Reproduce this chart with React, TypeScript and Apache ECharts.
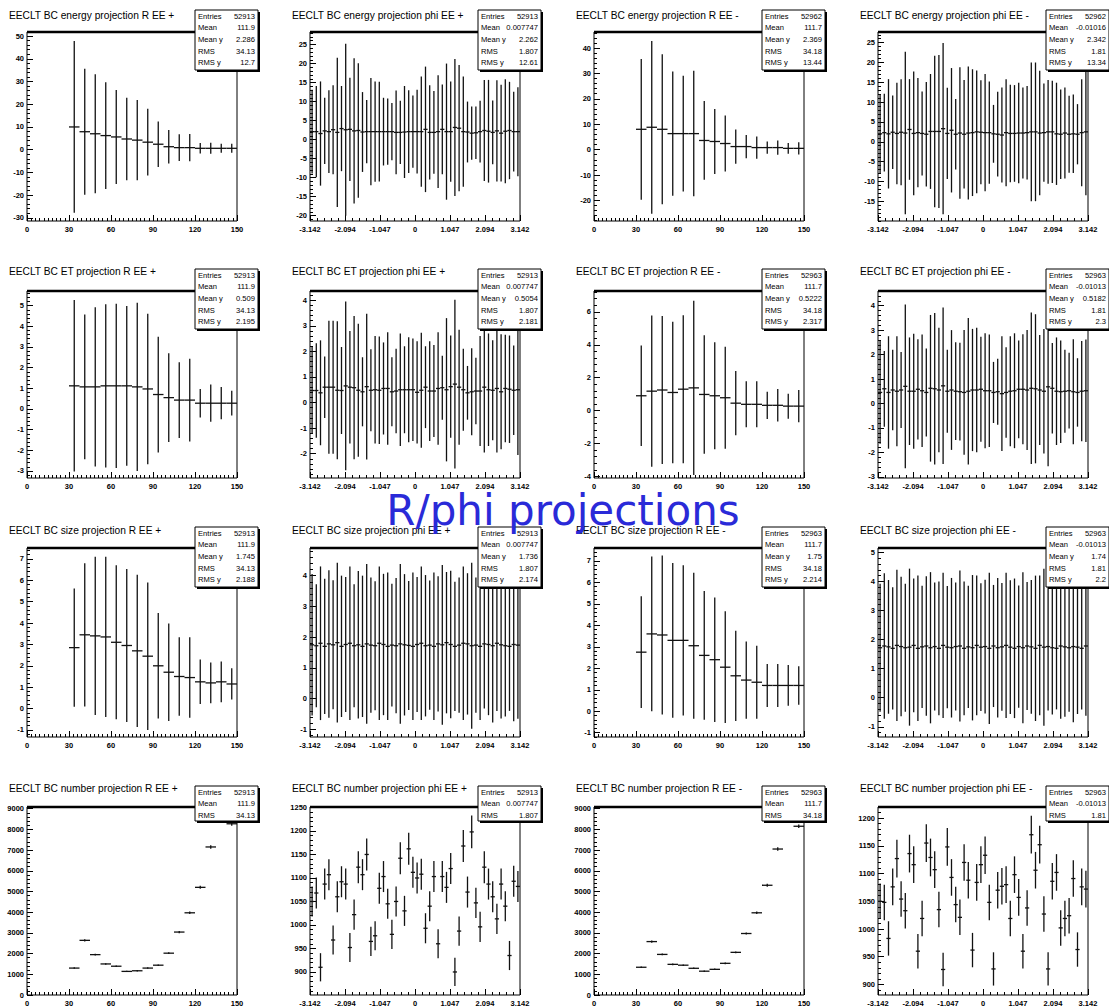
import React, { useEffect, useRef } from "react";
import * as echarts from "echarts";

// ---------------- bins / ticks ----------------
const rBinCenters = [33.75, 41.25, 48.75, 56.25, 63.75, 71.25, 78.75, 86.25, 93.75, 101.25, 108.75, 116.25, 123.75, 131.25, 138.75, 146.25];
const R_BIN_WIDTH = 7.5;
const PHI_NBINS = 50;
const PHI_MIN = -3.142;
const PHI_MAX = 3.142;
const rTickLabels = [0, 30, 60, 90, 120, 150];
const phiTickLabels = [-3.142, -2.094, -1.047, 0, 1.047, 2.094, 3.142];

// ---------------- energy ----------------
const energyR_EEplus_mean = [10, 7.9, 7, 6.2, 5.6, 4.7, 4.2, 3.3, 2.4, 1.3, 0.9, 0.9, 0.6, 0.6, 0.6, 0.6];
const energyR_EEplus_err = [37.8, 27.7, 26.2, 23.5, 20.7, 18.2, 17.7, 14.7, 10, 7.4, 5.9, 6, 2.3, 2.4, 2.0, 2.0];
const energyPhi_EEplus_mean = [2.1, 2.1, 1.6, 2.3, 2.1, 2.6, 1.9, 2.9, 2.6, 2.7, 2.3, 2.4, 2.0, 2.1, 2.1, 2.1, 2.1, 2.1, 2.1, 2.1, 1.9, 1.9, 2.0, 2.1, 2.1, 2.1, 2.1, 2.7, 1.9, 1.9, 2.1, 2.7, 2.1, 2.1, 3.2, 3.0, 2.1, 2.0, 1.7, 1.8, 2.1, 2.4, 2.2, 1.9, 2.3, 1.7, 2.2, 2.4, 2.1, 2.1];
const energyPhi_EEplus_err = [11, 12.0, 13.7, 8.7, 10.9, 11.7, 19.6, 11.2, 22.6, 13.6, 19.1, 17.7, 10.5, 8.3, 14.1, 13.2, 13.1, 8.9, 8.7, 7.5, 11, 8.3, 12.1, 10.9, 9.5, 11, 14.5, 16.5, 12.4, 10.9, 14.8, 11.8, 17.9, 13.2, 18, 16.6, 14.5, 8, 7, 6.9, 8.1, 13.3, 13.5, 8.4, 13.3, 12.7, 13.7, 12.8, 10.5, 11.7];
const energyR_EEminus_mean = [8.0, 8.8, 8.0, 6.3, 6.3, 6.3, 3.6, 3.2, 2.4, 1.2, 1.2, 0.8, 0.8, 0.8, 0.5, 0.5];
const energyR_EEminus_err = [27.7, 34, 29.5, 24.5, 22.8, 24.7, 15.5, 12.8, 11, 6.75, 4.6, 4.35, 2.4, 2.8, 2.1, 2.4];
const energyPhi_EEminus_mean = [2.0, 2.3, 2.0, 2.4, 2.1, 2.4, 2.2, 3.1, 2.1, 2.3, 2.1, 1.9, 2.6, 2.6, 2.6, 3.3, 2.1, 2.9, 1.9, 2.2, 1.9, 2.2, 2.3, 2.5, 2.4, 2.3, 2.3, 2.0, 1.9, 1.7, 2.3, 2.1, 2.1, 2.2, 2.2, 2.3, 2.5, 2.5, 2.2, 2.3, 2.5, 2.5, 2.0, 1.9, 2.2, 1.9, 2.0, 1.9, 2.3, 2.5];
const energyPhi_EEminus_err = [10, 9.8, 13.8, 9.3, 12.8, 13.4, 20.5, 12.7, 15.6, 13.8, 10.6, 13.2, 14.5, 19.1, 19.3, 21.6, 11.5, 15.7, 8.9, 16.6, 13.7, 16.8, 16, 15.5, 13.1, 14.8, 12.9, 7.3, 10.7, 12, 13.5, 12.3, 12.2, 12.7, 11.5, 11.8, 17.5, 17.5, 15.7, 12.4, 13.1, 12.9, 12.9, 11.3, 11.5, 9.7, 9.9, 7.6, 13.5, 16];

// ---------------- ET ----------------
const etR_EEplus_mean = [1.12, 1.07, 1.07, 1.12, 1.12, 1.12, 1.07, 0.97, 0.7, 0.55, 0.43, 0.43, 0.28, 0.28, 0.28, 0.28];
const etR_EEplus_err = [4.15, 3.5, 3.85, 3.95, 3.97, 3.87, 4.07, 3.64, 2.8, 2.15, 1.83, 2.0, 0.69, 0.9, 0.78, 0.6];
const etPhi_EEplus_mean = [0.47, 0.47, 0.38, 0.6, 0.6, 0.6, 0.48, 0.47, 0.65, 0.6, 0.58, 0.48, 0.42, 0.62, 0.48, 0.5, 0.48, 0.55, 0.55, 0.42, 0.45, 0.5, 0.5, 0.5, 0.5, 0.4, 0.48, 0.6, 0.45, 0.45, 0.55, 0.58, 0.5, 0.62, 0.72, 0.6, 0.5, 0.38, 0.42, 0.45, 0.45, 0.6, 0.5, 0.48, 0.55, 0.42, 0.55, 0.52, 0.48, 0.5];
const etPhi_EEplus_err = [1.7, 1.85, 2.05, 1.2, 2.6, 2.6, 2.7, 1.7, 3.3, 2.2, 2.8, 2.6, 1.35, 2.85, 1.6, 2.1, 2.1, 1.8, 2.2, 1.35, 1.65, 2.2, 1.7, 2.05, 2.0, 2.0, 2.25, 1.6, 1.95, 1.8, 2.2, 1.25, 2.8, 2.0, 3.3, 2.25, 1.6, 1.05, 1.7, 1.3, 2.15, 2.55, 2.2, 1.95, 2.5, 2.25, 2.1, 2.1, 1.75, 2.55];
const etR_EEminus_mean = [0.9, 1.18, 1.25, 1.1, 1.3, 1.38, 0.98, 0.9, 0.78, 0.45, 0.38, 0.38, 0.32, 0.32, 0.27, 0.27];
const etR_EEminus_err = [3.05, 4.6, 4.5, 4.3, 4.5, 5.3, 3.6, 3.25, 3.1, 1.95, 1.4, 1.4, 0.83, 0.99, 0.76, 0.98];
const etPhi_EEminus_mean = [0.45, 0.6, 0.45, 0.55, 0.5, 0.55, 0.7, 0.5, 0.5, 0.58, 0.52, 0.45, 0.62, 0.6, 0.55, 0.72, 0.5, 0.55, 0.5, 0.48, 0.45, 0.5, 0.55, 0.55, 0.58, 0.52, 0.52, 0.45, 0.48, 0.4, 0.45, 0.5, 0.52, 0.58, 0.58, 0.55, 0.62, 0.6, 0.55, 0.5, 0.68, 0.62, 0.5, 0.48, 0.5, 0.52, 0.48, 0.45, 0.5, 0.52];
const etPhi_EEminus_err = [2.1, 1.55, 2.3, 1.65, 2.25, 1.55, 3.35, 2.2, 2.35, 2.05, 2.3, 1.8, 3.0, 3.1, 2.55, 3.2, 1.7, 2.45, 2.0, 2.0, 2.55, 3.0, 2.5, 2.55, 2.15, 2.35, 2.3, 1.25, 1.35, 2.35, 1.85, 2.25, 2.35, 2.0, 2.25, 2.45, 3.1, 3.05, 2.25, 2.55, 3.25, 1.85, 2.2, 2.1, 1.7, 1.55, 2.15, 1.4, 2.05, 2.1];

// ---------------- size ----------------
const sizeR_EEplus_mean = [2.85, 3.45, 3.4, 3.35, 3.1, 2.95, 2.7, 2.45, 2.0, 1.7, 1.5, 1.45, 1.25, 1.2, 1.25, 1.15];
const sizeR_EEplus_err = [2.76, 3.35, 3.7, 3.75, 3.6, 3.58, 3.56, 3.45, 2.47, 2.28, 1.84, 1.88, 1.04, 0.95, 0.95, 0.73];
const sizePhi_EEplus_mean = [1.75, 1.72, 1.8, 1.7, 1.78, 1.75, 1.82, 1.7, 1.76, 1.8, 1.72, 1.75, 1.7, 1.78, 1.74, 1.72, 1.8, 1.76, 1.7, 1.74, 1.72, 1.78, 1.75, 1.73, 1.7, 1.76, 1.8, 1.72, 1.74, 1.7, 1.78, 1.75, 1.82, 1.76, 1.7, 1.74, 1.8, 1.78, 1.72, 1.74, 1.7, 1.78, 1.76, 1.72, 1.8, 1.75, 1.72, 1.7, 1.76, 1.74];
const sizePhi_EEplus_err = [2.3, 2.0, 2.5, 2.2, 2.4, 2.1, 2.6, 2.3, 2.2, 2.5, 2.0, 2.4, 2.3, 2.6, 2.2, 2.1, 2.5, 2.3, 2.4, 2.0, 2.2, 2.6, 2.3, 2.1, 2.4, 2.2, 2.5, 2.3, 2.1, 2.4, 2.2, 2.6, 2.3, 2.4, 2.1, 2.2, 2.5, 2.3, 2.7, 2.2, 2.4, 2.1, 2.3, 2.5, 2.2, 2.4, 2.3, 2.1, 2.5, 2.4];
const sizeR_EEminus_mean = [2.75, 3.6, 3.55, 3.3, 3.3, 3.05, 2.6, 2.4, 2.05, 1.65, 1.45, 1.35, 1.2, 1.2, 1.2, 1.2];
const sizeR_EEminus_err = [2.6, 3.6, 3.7, 3.6, 3.5, 3.4, 3.0, 2.9, 2.6, 2.1, 1.8, 1.7, 1.0, 1.0, 0.95, 0.9];
const sizePhi_EEminus_mean = [1.72, 1.78, 1.75, 1.7, 1.8, 1.76, 1.72, 1.74, 1.8, 1.7, 1.75, 1.78, 1.72, 1.76, 1.7, 1.8, 1.74, 1.72, 1.76, 1.78, 1.7, 1.75, 1.72, 1.8, 1.74, 1.76, 1.7, 1.78, 1.72, 1.75, 1.8, 1.74, 1.7, 1.76, 1.72, 1.78, 1.75, 1.7, 1.8, 1.74, 1.76, 1.72, 1.7, 1.78, 1.75, 1.72, 1.76, 1.74, 1.7, 1.78];
const sizePhi_EEminus_err = [2.2, 2.5, 2.3, 2.1, 2.6, 2.4, 2.2, 2.7, 2.3, 2.5, 2.1, 2.4, 2.6, 2.2, 2.3, 2.5, 2.1, 2.4, 2.2, 2.6, 2.3, 2.1, 2.5, 2.4, 2.2, 2.3, 2.6, 2.1, 2.4, 2.2, 2.5, 2.3, 2.4, 2.1, 2.6, 2.2, 2.3, 2.5, 2.4, 2.7, 2.2, 2.3, 2.1, 2.5, 2.4, 2.2, 2.6, 2.3, 2.1, 2.4];

// ---------------- number ----------------
const numberR_EEplus = [1300, 2640, 1950, 1500, 1390, 1140, 1170, 1300, 1440, 2020, 3040, 3970, 5200, 7150, 8700, 8270];
const numberR_EEplus_err = [36, 51, 44, 39, 37, 34, 34, 36, 38, 45, 55, 63, 72, 85, 93, 91];
const numberPhi_EEplus = [1050, 1068, 910, 1087, 1107, 968, 1060, 1092, 1087, 952, 1022, 1123, 1107, 1150, 965, 977, 1078, 1103, 1045, 980, 1050, 1142, 1030, 1162, 1112, 1100, 1108, 993, 1040, 1103, 960, 1103, 1080, 1120, 900, 987, 1168, 1070, 1198, 1047, 996, 1123, 1087, 1060, 1013, 1087, 1040, 935, 1093, 1082];
const numberPhi_EEplus_err = [32, 33, 30, 33, 33, 31, 33, 33, 33, 31, 32, 34, 33, 34, 31, 31, 33, 33, 32, 31, 32, 34, 32, 34, 33, 33, 33, 32, 32, 33, 31, 33, 33, 33, 30, 31, 34, 33, 35, 32, 32, 34, 33, 33, 32, 33, 32, 31, 33, 33];
const numberR_EEminus = [1340, 2580, 1960, 1480, 1440, 1290, 1150, 1240, 1530, 2060, 2970, 3970, 5300, 7050, 8600, 8150];
const numberR_EEminus_err = [37, 51, 44, 38, 38, 36, 34, 35, 39, 45, 54, 63, 73, 84, 93, 90];
const numberPhi_EEminus = [1050, 1048, 983, 1076, 1127, 1054, 1033, 1136, 1116, 960, 1019, 1155, 1129, 1107, 1035, 927, 1148, 1093, 1044, 1021, 1120, 1088, 962, 1084, 1116, 1133, 1048, 928, 1070, 1077, 1080, 1019, 1098, 1057, 960, 1038, 1170, 1106, 1152, 1027, 928, 1086, 1102, 1002, 1019, 1024, 1091, 963, 1076, 1072];
const numberPhi_EEminus_err = [32, 32, 31, 33, 34, 32, 32, 34, 33, 31, 32, 34, 34, 33, 32, 30, 34, 33, 32, 32, 33, 33, 31, 33, 33, 34, 32, 30, 33, 33, 33, 32, 33, 33, 31, 32, 34, 33, 34, 32, 30, 33, 33, 32, 32, 32, 33, 31, 33, 33];

// ---------------- titles / stats ----------------
const titles = [
  "EECLT BC energy projection R EE +", "EECLT BC energy projection phi EE +", "EECLT BC energy projection R EE -", "EECLT BC energy projection phi EE -",
  "EECLT BC ET projection R EE +", "EECLT BC ET projection phi EE +", "EECLT BC ET projection R EE -", "EECLT BC ET projection phi EE -",
  "EECLT BC size projection R EE +", "EECLT BC size projection phi EE +", "EECLT BC size projection R EE -", "EECLT BC size projection phi EE -",
  "EECLT BC number projection R EE +", "EECLT BC number projection phi EE +", "EECLT BC number projection R EE -", "EECLT BC number projection phi EE -",
];
const statLabels5 = ["Entries", "Mean", "Mean y", "RMS", "RMS y"];
const statLabels3 = ["Entries", "Mean", "RMS"];
const statValues = [
  ["52913", "111.9", "2.286", "34.13", "12.7"], ["52913", "0.007747", "2.262", "1.807", "12.61"], ["52962", "111.7", "2.369", "34.18", "13.44"], ["52962", "-0.01016", "2.342", "1.81", "13.34"],
  ["52913", "111.9", "0.509", "34.13", "2.195"], ["52913", "0.007747", "0.5054", "1.807", "2.181"], ["52963", "111.7", "0.5222", "34.18", "2.317"], ["52963", "-0.01013", "0.5182", "1.81", "2.3"],
  ["52913", "111.9", "1.745", "34.13", "2.188"], ["52913", "0.007747", "1.736", "1.807", "2.174"], ["52963", "111.7", "1.75", "34.18", "2.214"], ["52963", "-0.01013", "1.74", "1.81", "2.2"],
  ["52913", "111.9", "34.13"], ["52913", "0.007747", "1.807"], ["52963", "111.7", "34.18"], ["52963", "-0.01013", "1.81"],
];
const yRanges = [
  [-31.4, 51.8], [-21.4, 28.3], [-28.1, 46.3], [-20.0, 27.7],
  [-3.34, 5.71], [-2.95, 4.36], [-4.1, 7.27], [-3.05, 4.6],
  [-1.33, 7.51], [-1.25, 4.9], [-1.2, 7.6], [-1.35, 5.15],
  [0, 9080], [851, 1251], [0, 9080], [881, 1220],
];
const yTickLabels = [
  [-30, -20, -10, 0, 10, 20, 30, 40, 50], [-20, -15, -10, -5, 0, 5, 10, 15, 20, 25], [-20, -10, 0, 10, 20, 30, 40], [-15, -10, -5, 0, 5, 10, 15, 20, 25],
  [-3, -2, -1, 0, 1, 2, 3, 4, 5], [-2, -1, 0, 1, 2, 3, 4], [-4, -2, 0, 2, 4, 6], [-3, -2, -1, 0, 1, 2, 3, 4],
  [-1, 0, 1, 2, 3, 4, 5, 6, 7], [-1, 0, 1, 2, 3, 4], [-1, 0, 1, 2, 3, 4, 5, 6, 7], [-1, 0, 1, 2, 3, 4, 5],
  [0, 1000, 2000, 3000, 4000, 5000, 6000, 7000, 8000, 9000], [900, 950, 1000, 1050, 1100, 1150, 1200, 1250], [0, 1000, 2000, 3000, 4000, 5000, 6000, 7000, 8000, 9000], [900, 950, 1000, 1050, 1100, 1150, 1200],
];
const yMinorSteps = [2, 1, 2, 1, 0.2, 0.2, 0.4, 0.2, 0.2, 0.2, 0.2, 0.2, 200, 10, 200, 10];

const panelMeans = [
  energyR_EEplus_mean, energyPhi_EEplus_mean, energyR_EEminus_mean, energyPhi_EEminus_mean,
  etR_EEplus_mean, etPhi_EEplus_mean, etR_EEminus_mean, etPhi_EEminus_mean,
  sizeR_EEplus_mean, sizePhi_EEplus_mean, sizeR_EEminus_mean, sizePhi_EEminus_mean,
  numberR_EEplus, numberPhi_EEplus, numberR_EEminus, numberPhi_EEminus,
];
const panelErrs = [
  energyR_EEplus_err, energyPhi_EEplus_err, energyR_EEminus_err, energyPhi_EEminus_err,
  etR_EEplus_err, etPhi_EEplus_err, etR_EEminus_err, etPhi_EEminus_err,
  sizeR_EEplus_err, sizePhi_EEplus_err, sizeR_EEminus_err, sizePhi_EEminus_err,
  numberR_EEplus_err, numberPhi_EEplus_err, numberR_EEminus_err, numberPhi_EEminus_err,
];

// ---------------- layout ----------------
const COL_X = [27, 310, 594, 878];
const ROW_Y = [32, 291, 548, 807];
const ROW_H = [189, 187, 189, 188];
const FRAME_W = 210;
const TITLE_Y = [15, 271, 530, 788];
const BOX_Y = [10, 269, 527, 786];
const FONT = "'Liberation Sans', Arial, sans-serif";

function minorTicks(min: number, max: number, step: number) {
  const out: number[] = [];
  const start = Math.ceil(min / step - 1e-9);
  for (let k = start; k * step <= max + 1e-9; k++) out.push(+(k * step).toFixed(6));
  return out;
}

function renderErrBar(params: any, api: any) {
  const x = api.value(0), y = api.value(1), e = api.value(2), hw = api.value(3);
  const l = api.coord([x - hw, y]);
  const r = api.coord([x + hw, y]);
  const t = api.coord([x, y + e]);
  const b = api.coord([x, y - e]);
  const st = { stroke: "#111", lineWidth: 1.3 };
  return {
    type: "group",
    children: [
      { type: "line", shape: { x1: l[0], y1: l[1], x2: r[0], y2: r[1] }, style: st },
      { type: "line", shape: { x1: t[0], y1: t[1], x2: b[0], y2: b[1] }, style: st },
    ],
  };
}

function buildOption() {
  const grid: any[] = [];
  const xAxis: any[] = [];
  const yAxis: any[] = [];
  const series: any[] = [];
  const elements: any[] = [];

  for (let i = 0; i < 16; i++) {
    const c = i % 4, r = Math.floor(i / 4);
    const left = COL_X[c], top = ROW_Y[r], h = ROW_H[r];
    const isR = c % 2 === 0;
    grid.push({ left, top, width: FRAME_W, height: h, show: true, borderColor: "#000", borderWidth: 1, backgroundColor: "#fff", containLabel: false, outerBoundsMode: "none" });

    const xMin = isR ? 0 : PHI_MIN, xMax = isR ? 150 : PHI_MAX;
    const xMajor = isR ? rTickLabels : phiTickLabels;
    const xMinor = isR ? minorTicks(0, 150, 3) : minorTicks(PHI_MIN, PHI_MAX, 0.2094);
    const common = { type: "value", gridIndex: i, splitLine: { show: false }, axisLine: { show: false, onZero: false } };
    xAxis.push({
      ...common, position: "bottom", min: xMin, max: xMax,
      axisTick: { show: true, inside: true, length: 6, customValues: xMajor, lineStyle: { color: "#000", width: 1 } },
      axisLabel: { show: true, customValues: xMajor, fontSize: 7.5, fontWeight: "bold", fontFamily: FONT, color: "#000", margin: 4,
        formatter: (v: number) => (isR ? String(v) : (Math.abs(v) < 1e-9 ? "0" : v.toFixed(3))) },
    });
    xAxis.push({
      ...common, position: "bottom", min: xMin, max: xMax,
      axisTick: { show: true, inside: true, length: 3, customValues: xMinor, lineStyle: { color: "#000", width: 1 } },
      axisLabel: { show: false },
    });
    const [yMin, yMax] = yRanges[i];
    yAxis.push({
      ...common, position: "left", min: yMin, max: yMax,
      axisTick: { show: true, inside: true, length: 6, customValues: yTickLabels[i], lineStyle: { color: "#000", width: 1 } },
      axisLabel: { show: true, customValues: yTickLabels[i], fontSize: 7.5, fontWeight: "bold", fontFamily: FONT, color: "#000", margin: 3,
        formatter: (v: number) => String(v) },
    });
    yAxis.push({
      ...common, position: "left", min: yMin, max: yMax,
      axisTick: { show: true, inside: true, length: 3, customValues: minorTicks(yMin, yMax, yMinorSteps[i]), lineStyle: { color: "#000", width: 1 } },
      axisLabel: { show: false },
    });

    const means = panelMeans[i];
    const errs = panelErrs[i];
    const phiW = (PHI_MAX - PHI_MIN) / PHI_NBINS;
    const data = means.map((m, k) => {
      const xc = isR ? rBinCenters[k] : PHI_MIN + (k + 0.5) * phiW;
      const hw = isR ? R_BIN_WIDTH / 2 : phiW / 2;
      return [xc, m, errs[k], hw];
    });
    series.push({
      type: "custom", xAxisIndex: 2 * i, yAxisIndex: 2 * i, clip: true,
      renderItem: renderErrBar, encode: { x: 0, y: 1 }, data, silent: true,
    });

    // title
    elements.push({
      type: "text", x: left - 18, y: TITLE_Y[r], z: 10,
      style: { text: titles[i], fontSize: 10.2, fontFamily: FONT, fill: "#000", textAlign: "left", align: "left", textVerticalAlign: "middle", verticalAlign: "middle" },
    });
    // thick top frame line
    elements.push({
      type: "line", z: 20, shape: { x1: left, y1: top, x2: left + FRAME_W, y2: top }, style: { stroke: "#000", lineWidth: 2.5 },
    });
    // stats box
    const vals = statValues[i];
    const labels = vals.length === 5 ? statLabels5 : statLabels3;
    const bx = left + 168, by = BOX_Y[r], bw = 63;
    const rowY5 = [6, 17.5, 29, 41, 52];
    const rowY3 = [6, 17.5, 29];
    const bh = vals.length === 5 ? 60 : 35;
    elements.push({ type: "rect", z: 30, shape: { x: bx + 2, y: by + 2, width: bw, height: bh }, style: { fill: "#000" } });
    elements.push({ type: "rect", z: 31, shape: { x: bx, y: by, width: bw, height: bh }, style: { fill: "#fff", stroke: "#000", lineWidth: 1 } });
    labels.forEach((lab, k) => {
      const yy = by + (vals.length === 5 ? rowY5[k] : rowY3[k]);
      elements.push({ type: "text", z: 32, x: bx + 3, y: yy, style: { text: lab, fontSize: 7.6, fontFamily: FONT, fill: "#000", textAlign: "left", align: "left", textVerticalAlign: "middle", verticalAlign: "middle" } });
      elements.push({ type: "text", z: 33, x: bx + bw - 3, y: yy, style: { text: vals[k], fontSize: 7.6, fontFamily: FONT, fill: "#000", textAlign: "right", align: "right", textVerticalAlign: "middle", verticalAlign: "middle" } });
    });
  }

  elements.push({
    type: "text", x: 563, y: 510, z: 50,
    style: { text: "R/phi projections", fontSize: 42, fontFamily: "'DejaVu Sans', Verdana, sans-serif", fill: "#2a2ad8", textAlign: "center", align: "center", textVerticalAlign: "middle", verticalAlign: "middle" },
  });

  return {
    animation: false,
    backgroundColor: "#fff",
    grid, xAxis, yAxis, series,
    graphic: { elements },
  };
}

export default function App() {
  const ref = useRef<HTMLDivElement>(null);
  useEffect(() => {
    if (!ref.current) return;
    const chart = echarts.init(ref.current, null, { renderer: "svg" });
    chart.setOption(buildOption() as any);
    return () => chart.dispose();
  }, []);
  return <div ref={ref} style={{ position: "absolute", left: 0, top: 0, width: 1109, height: 1007, background: "#fff" }} />;
}
